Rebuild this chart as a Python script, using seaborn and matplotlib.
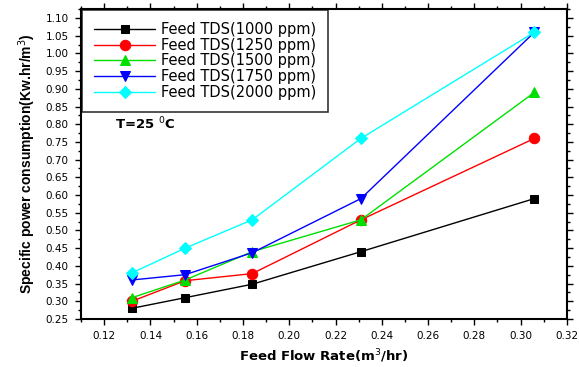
import matplotlib
matplotlib.use("Agg")
import matplotlib.pyplot as plt
from matplotlib.ticker import MultipleLocator
import seaborn as sns
import pandas as pd

flow_rate = [0.132, 0.155, 0.184, 0.231, 0.306]
tds_labels = ["Feed TDS(1000 ppm)", "Feed TDS(1250 ppm)", "Feed TDS(1500 ppm)",
              "Feed TDS(1750 ppm)", "Feed TDS(2000 ppm)"]
tds_1000 = [0.28, 0.31, 0.348, 0.44, 0.59]
tds_1250 = [0.30, 0.358, 0.378, 0.53, 0.76]
tds_1500 = [0.31, 0.36, 0.44, 0.53, 0.89]
tds_1750 = [0.36, 0.375, 0.437, 0.59, 1.06]
tds_2000 = [0.38, 0.45, 0.53, 0.76, 1.06]

series = [tds_1000, tds_1250, tds_1500, tds_1750, tds_2000]
colors = ["black", "red", "#00e000", "blue", "cyan"]
markers = ["s", "o", "^", "v", "D"]
sizes = [6, 7.5, 7.5, 7.5, 6]

sns.set_theme(style="ticks")
plt.rcParams["font.family"] = ["DejaVu Sans"]
plt.rcParams["text.color"] = "black"
plt.rcParams["axes.labelcolor"] = "black"

fig = plt.figure(figsize=(5.79, 3.67), dpi=100)
ax = fig.add_axes([0.14, 0.131, 0.839, 0.844])

for label, vals, c, m, s in zip(tds_labels, series, colors, markers, sizes):
    df = pd.DataFrame({"flow": flow_rate, "spc": vals})
    sns.lineplot(data=df, x="flow", y="spc", ax=ax, color=c, marker=m,
                 markersize=s, markeredgecolor=c, linewidth=1, label=label)

ax.set_xlim(0.11, 0.32)
ax.set_ylim(0.25, 1.125)
ax.xaxis.set_major_locator(MultipleLocator(0.02))
ax.xaxis.set_minor_locator(MultipleLocator(0.01))
ax.yaxis.set_major_locator(MultipleLocator(0.05))
ax.yaxis.set_minor_locator(MultipleLocator(0.025))
ax.set_xticklabels([f"{v:.2f}" for v in ax.get_xticks()])
ax.set_yticklabels([f"{v:.2f}" for v in ax.get_yticks()])
ax.tick_params(which="both", direction="out", labelsize=7.5, colors="black",
               top=True, right=True, labeltop=False, labelright=False)
ax.tick_params(which="major", length=4, width=1, pad=5)
ax.tick_params(which="minor", length=2.5, width=1)
for sp in ax.spines.values():
    sp.set_linewidth(1.5)
    sp.set_color("black")

ax.set_xlabel("Feed Flow Rate(m$^3$/hr)", fontsize=9.5, fontweight="bold", labelpad=4)
ax.set_ylabel("Specific power consumption(Kw.hr/m$^3$)", fontsize=10,
              fontweight="bold", labelpad=5, family=["Liberation Sans"])

ax.text(0.1245, 0.80, "T=25 $^0$C", fontsize=9.5, fontweight="bold",
        ha="left", va="center")

leg = ax.legend(loc="upper left", prop={"size": 10.5}, handlelength=4.2,
                frameon=True, fancybox=False, borderaxespad=0.05,
                labelspacing=0.04, borderpad=0.85, handletextpad=0.35)
leg.get_frame().set_edgecolor("black")
leg.get_frame().set_linewidth(1.2)

fig.savefig("out.png", dpi=100)
